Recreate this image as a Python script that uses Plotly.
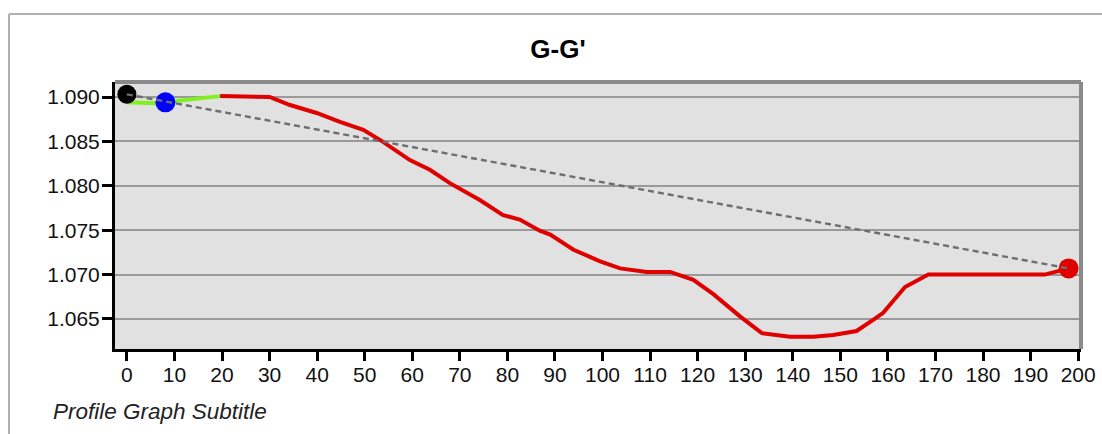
import plotly.graph_objects as go

# ---- data ----
title_text = "G-G'"
subtitle_text = "Profile Graph Subtitle"

green_x = [0, 6, 19.6]
green_y = [1.0894, 1.0893, 1.0901]

red_x = [19.6, 24.5, 30, 34.3, 39.9, 44.8, 49.7, 53.7, 57.4, 59.5, 63.7, 67.9, 74.2, 79.1,
         82.6, 86.8, 89, 93.9, 99.5, 103.7, 109.3, 114.2, 119.1, 123.3, 128.9, 133.5,
         139.4, 144.3, 148.5, 153.4, 156.9, 159, 163.6, 168.5, 193, 198]
red_y = [1.0901, 1.0900, 1.0900, 1.0891, 1.0882, 1.0872, 1.0863, 1.0850, 1.0837, 1.0829,
         1.0818, 1.0803, 1.0784, 1.0767, 1.0762, 1.07495, 1.0745, 1.0728, 1.0715, 1.0707,
         1.0703, 1.0703, 1.0694, 1.0678, 1.0653, 1.0634, 1.0630, 1.0630, 1.0632, 1.06365,
         1.0649, 1.0657, 1.0686, 1.0700, 1.0700, 1.0707]

start_pt = (0, 1.0903)
mid_pt = (8.1, 1.0894)
end_pt = (198, 1.0707)

x_ticks = list(range(0, 201, 10))
y_ticks = [1.065, 1.070, 1.075, 1.080, 1.085, 1.090]
y_tick_text = ["1.065", "1.070", "1.075", "1.080", "1.085", "1.090"]

RED = "#e00000"
GREEN = "#80f020"

fig = go.Figure()
fig.add_trace(go.Scatter(x=green_x, y=green_y, mode="lines",
                         line=dict(color=GREEN, width=4), hoverinfo="skip"))
fig.add_trace(go.Scatter(x=red_x, y=red_y, mode="lines",
                         line=dict(color=RED, width=4), hoverinfo="skip"))
fig.add_trace(go.Scatter(x=[start_pt[0]], y=[start_pt[1]], mode="markers",
                         marker=dict(color="black", size=19)))
fig.add_trace(go.Scatter(x=[mid_pt[0]], y=[mid_pt[1]], mode="markers",
                         marker=dict(color="#0000ff", size=20)))
fig.add_trace(go.Scatter(x=[end_pt[0]], y=[end_pt[1]], mode="markers",
                         marker=dict(color=RED, size=20)))
fig.add_trace(go.Scatter(x=[start_pt[0], end_pt[0]], y=[start_pt[1], end_pt[1]], mode="lines",
                         line=dict(color="#6e6e6e", width=2.4, dash="6px,4px"), hoverinfo="skip"))

L, R, T, B = 115, 21, 82, 85
W, H = 1102, 434
pw, ph = W - L - R, H - T - B

def px_x(p):
    return (p - L) / pw

def px_y(p):
    return (H - B - p) / ph

shapes = [
    # outer frame
    dict(type="line", xref="paper", yref="paper", x0=px_x(9), y0=px_y(14), x1=px_x(1102), y1=px_y(14),
         line=dict(color="#b0b0b0", width=2)),
    dict(type="line", xref="paper", yref="paper", x0=px_x(9), y0=px_y(14), x1=px_x(9), y1=px_y(440),
         line=dict(color="#b0b0b0", width=2)),
    # top and right gray spines
    dict(type="line", xref="paper", yref="paper", x0=0, y0=1, x1=1, y1=1,
         line=dict(color="#8a8a8a", width=4)),
    dict(type="line", xref="paper", yref="paper", x0=1, y0=0, x1=1, y1=1,
         line=dict(color="#8a8a8a", width=4)),
]

font_family = "Liberation Sans, Arial, sans-serif"

fig.update_layout(
    width=W, height=H,
    margin=dict(l=L, r=R, t=T, b=B, autoexpand=False),
    paper_bgcolor="white",
    plot_bgcolor="#e1e1e1",
    showlegend=False,
    font=dict(family=font_family, color="#111111", size=21),
    title=dict(text="<b>" + title_text + "</b>", x=558 / W, y=1 - 49 / H, xref="container",
               yref="container", xanchor="center", yanchor="middle",
               font=dict(family=font_family, size=26, color="black")),
    shapes=shapes,
    annotations=[dict(text="<i>" + subtitle_text + "</i>", xref="paper", yref="paper",
                      x=px_x(51), y=px_y(411), xanchor="left", yanchor="middle",
                      showarrow=False, font=dict(family=font_family, size=22.5, color="#222222"))],
)

fig.update_xaxes(range=[-2.5, 200.6], tickvals=x_ticks, ticktext=[str(v) for v in x_ticks],
                 showgrid=False, zeroline=False, showline=True, linecolor="black", linewidth=3,
                 ticks="outside", ticklen=9, tickwidth=3, tickcolor="black", automargin=False,
                 ticklabelstandoff=-4,
                 tickfont=dict(size=21, color="#111111"))
fig.update_yaxes(range=[1.06162, 1.09169], tickvals=y_ticks, ticktext=y_tick_text,
                 showgrid=True, gridcolor="#9a9a9a", gridwidth=2, zeroline=False,
                 showline=True, linecolor="black", linewidth=3, automargin=False,
                 ticks="outside", ticklen=10, tickwidth=3, tickcolor="black",
                 ticklabelstandoff=-2,
                 tickfont=dict(size=21, color="#111111"))

fig.write_html("out.html", config={"displayModeBar": False},
               post_script="document.body.style.margin='0';")
